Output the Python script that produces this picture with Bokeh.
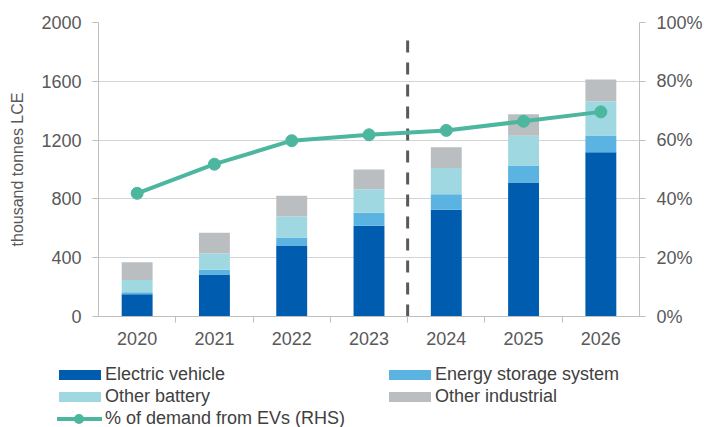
from bokeh.plotting import figure
from bokeh.layouts import column
from bokeh.models import (FactorRange, Range1d, LinearAxis, CategoricalAxis, FixedTicker,
                          PrintfTickFormatter, ColumnDataSource, Div)
from bokeh.transform import dodge
from bokeh.embed import file_html
from bokeh.resources import INLINE

# ---- data ----
years = ["2020", "2021", "2022", "2023", "2024", "2025", "2026"]
electric_vehicle = [152, 286, 483, 617, 726, 912, 1118]
energy_storage = [13, 32, 54, 88, 106, 115, 113]
other_battery = [84, 111, 145, 161, 179, 202, 232]
other_industrial = [120, 140, 139, 134, 141, 147, 149]
ev_share_pct = [41.9, 51.8, 59.8, 61.8, 63.3, 66.4, 69.6]
left_ticks = [0, 400, 800, 1200, 1600, 2000]
right_ticks = [0, 20, 40, 60, 80, 100]
forecast_start = "2024"
divider_top = 1940

series = ["Electric vehicle", "Energy storage system", "Other battery", "Other industrial"]
line_label = "% of demand from EVs (RHS)"
colors = ["#005CAF", "#5AB3E0", "#9FD8E0", "#BBBEC1"]
teal = "#4DB69F"
axis_gray = "#BFBFBF"
grid_gray = "#D4D4D4"
text_gray = "#595959"
FONT = "Liberation Sans"

src = ColumnDataSource(dict(year=years, ev=electric_vehicle, ess=energy_storage,
                            ob=other_battery, oi=other_industrial, share=ev_share_pct))

p = figure(width=707, height=360, x_range=FactorRange(*years), y_range=Range1d(0, 2000),
           output_backend="svg", toolbar_location=None, x_axis_location=None,
           min_border_left=98, min_border_right=68, min_border_top=22, min_border_bottom=44)
p.outline_line_color = None
p.extra_y_ranges = {"pct": Range1d(0, 100)}
# category boundaries: one factor per boundary, centred on the edges of the year slots
boundaries = [f"b{i}" for i in range(len(years) + 1)]
p.extra_x_ranges = {"bnd": FactorRange(factors=boundaries, range_padding=-0.5,
                                       range_padding_units="absolute")}

# left axis
lt = FixedTicker(ticks=left_ticks)
p.yaxis.ticker = lt
p.ygrid.ticker = lt
p.ygrid.grid_line_color = grid_gray
p.xgrid.grid_line_color = None
ya = p.yaxis[0]
ya.axis_line_color = axis_gray
ya.major_tick_line_color = axis_gray
ya.major_tick_in = 0
ya.major_tick_out = 6
ya.minor_tick_line_color = None
ya.major_label_standoff = 11
ya.major_label_text_font = FONT
ya.major_label_text_font_size = "18px"
ya.major_label_text_color = text_gray
ya.axis_label = "thousand tonnes LCE"
ya.axis_label_text_font = FONT
ya.axis_label_text_font_size = "16px"
ya.axis_label_text_font_style = "normal"
ya.axis_label_text_color = text_gray
ya.axis_label_standoff = 12

# right axis
ra = LinearAxis(y_range_name="pct", ticker=FixedTicker(ticks=right_ticks),
                formatter=PrintfTickFormatter(format="%d%%"))
ra.axis_line_color = axis_gray
ra.major_tick_line_color = axis_gray
ra.major_tick_in = 0
ra.major_tick_out = 6
ra.minor_tick_line_color = None
ra.major_label_standoff = 11
ra.major_label_text_font = FONT
ra.major_label_text_font_size = "18px"
ra.major_label_text_color = text_gray
p.add_layout(ra, "right")

# bottom: boundary ticks axis (no labels) + category label axis
ba = CategoricalAxis(x_range_name="bnd")
ba.axis_line_color = axis_gray
ba.major_tick_line_color = axis_gray
ba.major_tick_in = 0
ba.major_tick_out = 6
ba.major_label_text_font_size = "1px"
ba.major_label_text_color = None
ba.major_label_standoff = 0
p.add_layout(ba, "below")

ca = CategoricalAxis()
ca.axis_line_color = None
ca.major_tick_line_color = None
ca.major_tick_out = 0
ca.major_tick_in = 0
ca.major_label_standoff = 9
ca.major_label_text_font = FONT
ca.major_label_text_font_size = "18px"
ca.major_label_text_color = text_gray
p.add_layout(ca, "below")

# bars
p.vbar_stack(["ev", "ess", "ob", "oi"], x="year", width=0.4, source=src,
             fill_color=colors, line_color=None)

# forecast divider
p.segment(x0=dodge("year", -0.5, range=p.x_range), x1=dodge("year", -0.5, range=p.x_range),
          y0="y0", y1="y1",
          source=ColumnDataSource(dict(year=[forecast_start], y0=[0], y1=[divider_top])),
          line_color="#595959", line_width=3, line_dash="12 10")

# EV share line
p.line("year", "share", source=src, y_range_name="pct", line_color=teal, line_width=4)
p.scatter("year", "share", source=src, y_range_name="pct", size=12,
          fill_color=teal, line_color=teal)

# ---- legend (HTML strip below the chart) ----
col_x = [59, 389]          # key left edge per legend column
row_y = [15, 37, 59]       # key centre per legend row (within the strip)
key_w, key_h, gap = 42, 10, 4
entries = [(series[0], colors[0], 0, 0), (series[1], colors[1], 1, 0),
           (series[2], colors[2], 0, 1), (series[3], colors[3], 1, 1)]
parts = []
for label, col, c, r in entries:
    parts.append(f'<div style="position:absolute;left:{col_x[c]}px;top:{row_y[r] - key_h // 2}px;'
                 f'width:{key_w}px;height:{key_h}px;background:{col};"></div>')
    parts.append(f'<div style="position:absolute;left:{col_x[c] + key_w + gap}px;'
                 f'top:{row_y[r] - 12}px;white-space:nowrap;">{label}</div>')
# line + marker key
lx, ly = col_x[0] - 2, row_y[2]
parts.append(f'<div style="position:absolute;left:{lx}px;top:{ly - 2}px;width:45px;height:4px;'
             f'background:{teal};"></div>')
parts.append(f'<div style="position:absolute;left:{lx + 17}px;top:{ly - 5}px;width:10px;height:10px;'
             f'border-radius:50%;background:{teal};"></div>')
parts.append(f'<div style="position:absolute;left:{col_x[0] + key_w + gap}px;top:{ly - 12}px;'
             f'white-space:nowrap;">{line_label}</div>')

html = ('<div style="position:relative;width:707px;height:67px;overflow:hidden;'
        f"font-family:'{FONT}',Arial,sans-serif;font-size:18px;line-height:22px;color:#404040;\">"
        + "".join(parts) + "</div>")
legend_div = Div(text=html, width=707, height=67, margin=0)

layout = column(p, legend_div, spacing=0)
open("out.html", "w").write(file_html(layout, INLINE))
